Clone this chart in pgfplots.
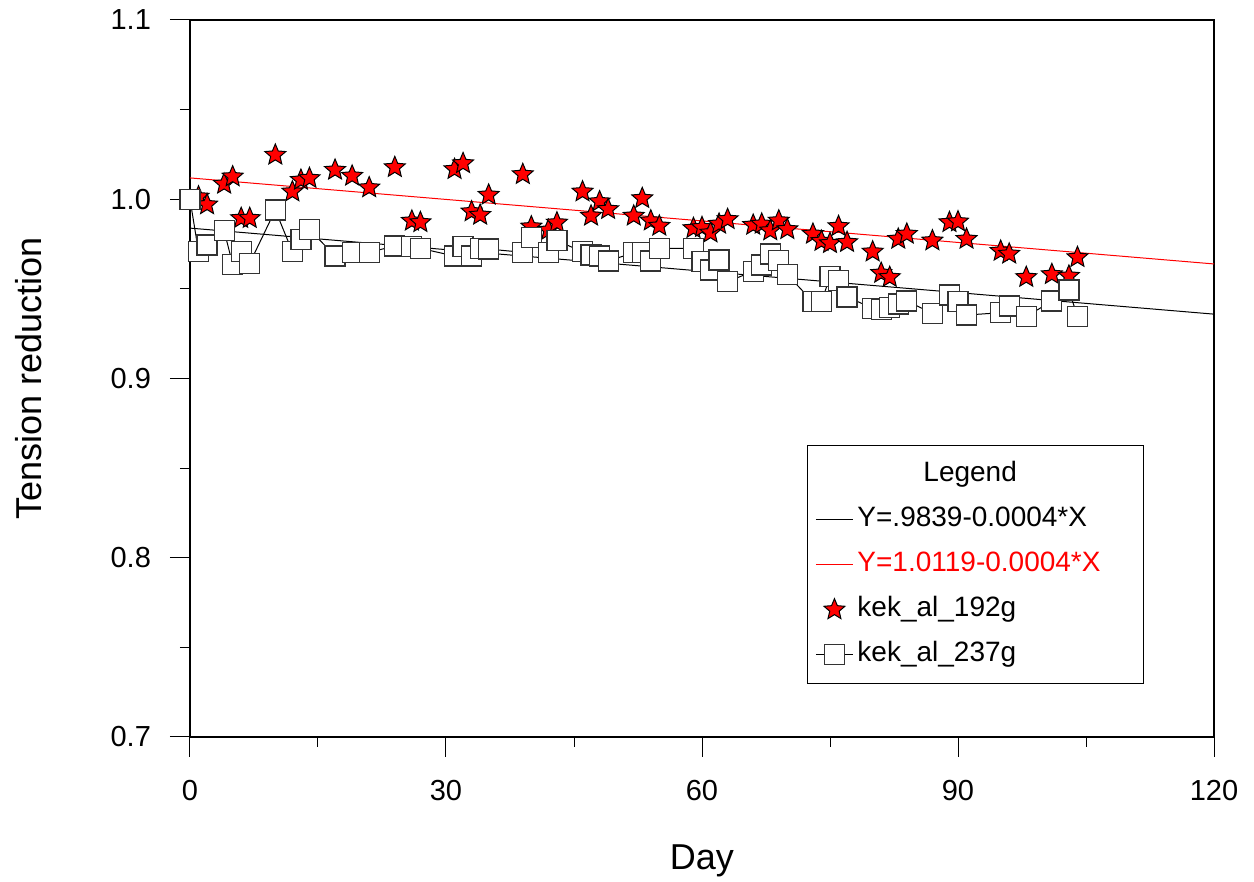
\documentclass[border=0pt]{standalone}
\usepackage{fontspec}
\setmainfont{Liberation Sans}
\usepackage{pgfplots}
\pgfplotsset{compat=1.18}

% filled five-pointed star
\pgfdeclareplotmark{fstar}{%
  \pgfpathmoveto{\pgfpointpolar{90}{\pgfplotmarksize}}%
  \pgfpathlineto{\pgfpointpolar{126}{0.45\pgfplotmarksize}}%
  \pgfpathlineto{\pgfpointpolar{162}{\pgfplotmarksize}}%
  \pgfpathlineto{\pgfpointpolar{198}{0.45\pgfplotmarksize}}%
  \pgfpathlineto{\pgfpointpolar{234}{\pgfplotmarksize}}%
  \pgfpathlineto{\pgfpointpolar{270}{0.45\pgfplotmarksize}}%
  \pgfpathlineto{\pgfpointpolar{306}{\pgfplotmarksize}}%
  \pgfpathlineto{\pgfpointpolar{342}{0.45\pgfplotmarksize}}%
  \pgfpathlineto{\pgfpointpolar{18}{\pgfplotmarksize}}%
  \pgfpathlineto{\pgfpointpolar{54}{0.45\pgfplotmarksize}}%
  \pgfpathclose
  \pgfusepathqfillstroke}

\begin{document}
\begin{tikzpicture}
\useasboundingbox (-95pt,-72.5pt) rectangle (532pt,368.5pt);
\begin{axis}[
    at={(0,0)}, anchor=south west,
    scale only axis,
    width=512pt, height=358.5pt,
    xmin=0, xmax=120, ymin=0.7, ymax=1.1,
    xtick={0,30,60,90,120},
    ytick={0.7,0.8,0.9,1.0,1.1},
    minor x tick num=1, minor y tick num=1,
    tick pos=left, tick align=outside,
    major tick length=10pt, minor tick length=5pt,
    every tick/.style={black, line width=0.5pt},
    axis line style={line width=0.6pt},
    /pgf/number format/assume math mode=true,
    ticklabel style={font=\fontsize{14.5}{17}\selectfont},
    yticklabel style={xshift=-6pt, /pgf/number format/fixed,
        /pgf/number format/fixed zerofill, /pgf/number format/precision=1},
    xticklabel style={yshift=-8pt},
    xlabel={Day},
    ylabel={Tension reduction},
    label style={font=\fontsize{18}{21}\selectfont},
    xlabel style={at={(axis description cs:0.5,-0.1855)}, anchor=base},
    ylabel style={at={(axis description cs:-0.158,0.5)}, anchor=center},
    legend image code/.code={\draw[mark repeat=2,mark phase=2,#1] plot coordinates {(0pt,0pt) (9.25pt,0pt) (18.5pt,0pt)};},
    legend style={at={(0.6025,0.407)}, anchor=north west,
        draw=black, line width=0.5pt, inner xsep=4pt, inner ysep=6pt,
        row sep=5.5pt,
        font=\fontsize{14}{17}\selectfont,
        nodes={inner sep=2pt, text height=10pt, text depth=3pt}},
    legend cell align=left,
]
\addlegendimage{empty legend}
\addlegendentry{\makebox[137pt][l]{\hspace{33pt}Legend}}

% regression lines
\addplot[black, line width=0.5pt] coordinates {(0,0.9839) (120,0.9359)};
\addlegendentry{Y=.9839-0.0004*X}
\addplot[red, line width=0.5pt] coordinates {(0,1.0119) (120,0.9639)};
\addlegendentry[text=red]{Y=1.0119-0.0004*X}

% kek_al_192g
\addplot[only marks, mark=fstar, mark size=5.5pt,
    mark options={fill=red, draw=black, line width=0.5pt}] coordinates {
(1,1.0014) (2,0.9970) (4,1.0085) (5,1.0126) (6,0.9894) (7,0.9894)
(10,1.0247) (12,1.0042) (13,1.0107) (14,1.0117) (17,1.0163) (19,1.0130)
(21,1.0065) (24,1.0178) (26,0.9879) (27,0.9871) (31,1.0167) (32,1.0200)
(33,0.9931) (34,0.9912) (35,1.0024) (39,1.0139) (40,0.9847) (42,0.9828)
(43,0.9869) (46,1.0042) (47,0.9907) (48,0.9987) (49,0.9944) (52,0.9907)
(53,1.0005) (54,0.9880) (55,0.9851) (59,0.9838) (60,0.9843) (61,0.9813)
(62,0.9862) (63,0.9888) (66,0.9856) (67,0.9862) (68,0.9825) (69,0.9880)
(70,0.9832) (73,0.9806) (74,0.9766) (75,0.9754) (76,0.9849) (77,0.9760)
(80,0.9707) (81,0.9588) (82,0.9565) (83,0.9778) (84,0.9806) (87,0.9769)
(89,0.9871) (90,0.9875) (91,0.9778) (95,0.9711) (96,0.9695) (98,0.9565)
(101,0.9581) (103,0.9572) (104,0.9676)
};
\addlegendentry{kek\_al\_192g}

% kek_al_237g
\addplot[black, line width=0.5pt, mark=square*, mark size=5pt,
    mark options={fill=white, draw=black!80, line width=0.6pt}] coordinates {
(0,1.0000) (1,0.9707) (2,0.9745) (4,0.9825) (5,0.9637) (6,0.9707)
(7,0.9643) (10,0.9940) (12,0.9707) (13,0.9777) (14,0.9832) (17,0.9683)
(19,0.9704) (21,0.9704) (24,0.9739) (26,0.9735) (27,0.9726) (31,0.9683)
(32,0.9735) (33,0.9683) (34,0.9726) (35,0.9722) (39,0.9704) (40,0.9788)
(42,0.9704) (43,0.9769) (46,0.9707) (47,0.9689) (48,0.9683) (49,0.9655)
(52,0.9702) (53,0.9702) (54,0.9655) (55,0.9726) (59,0.9726) (60,0.9652)
(61,0.9605) (62,0.9661) (63,0.9540) (66,0.9598) (67,0.9633) (68,0.9695)
(69,0.9659) (70,0.9579) (73,0.9428) (74,0.9428) (75,0.9568) (76,0.9548)
(77,0.9455) (80,0.9392) (81,0.9386) (82,0.9397) (83,0.9416) (84,0.9432)
(87,0.9364) (89,0.9466) (90,0.9429) (91,0.9354) (95,0.9367) (96,0.9404)
(98,0.9345) (101,0.9432) (103,0.9494) (104,0.9345)
};
\addlegendentry{kek\_al\_237g}
\end{axis}
\end{tikzpicture}
\end{document}
